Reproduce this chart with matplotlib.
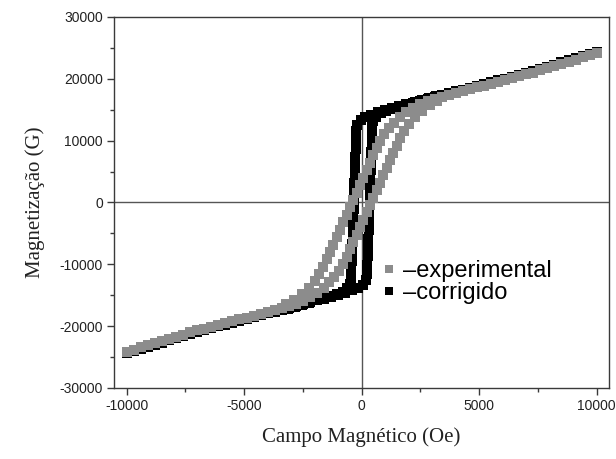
import matplotlib.pyplot as plt
from matplotlib.lines import Line2D
from matplotlib.ticker import MultipleLocator

plt.rcParams["axes.unicode_minus"] = False

# Saturation tails (field in Oe), shared by both loops
TAIL_H_POS = [3400, 3700, 4000, 4300, 4600, 4900, 5200, 5500, 5800, 6100, 6400, 6700,
              7000, 7300, 7600, 7900, 8200, 8500, 8800, 9100, 9400, 9700, 10000]
TAIL_H_NEG = [-3400, -3700, -4000, -4300, -4600, -4900, -5200, -5500, -5800, -6100, -6400, -6700,
              -7000, -7300, -7600, -7900, -8200, -8500, -8800, -9100, -9400, -9700, -10000]

# experimental loop (G)
EXP_TAIL_POS_M = [17100, 17400, 17700, 18000, 18300, 18600, 18900, 19200, 19500, 19800, 20100, 20400,
                  20700, 21000, 21350, 21700, 22050, 22400, 22750, 23100, 23450, 23800, 24100]
EXP_TAIL_NEG_M = [-17100, -17400, -17700, -18000, -18300, -18600, -18900, -19200, -19500, -19800, -20100, -20400,
                  -20700, -21000, -21350, -21700, -22050, -22400, -22750, -23100, -23450, -23800, -24100]
EXP_DESC_H = [3100, 2800, 2500, 2200, 1900, 1620, 1380, 1160, 960,
              780, 640, 500, 355, 215, 70, -70, -210, -350, -495, -635, -780, -920, -1060, -1200,
              -1345, -1485, -1630,
              -1800, -2000, -2250, -2550, -2900, -3200]
EXP_DESC_M = [16800, 16400, 15900, 15300, 14600, 13800, 12900, 12000, 11000,
              10000, 8800, 7600, 6400, 5200, 4000, 2800, 1600, 400, -800, -2000, -3200, -4400, -5600, -6800,
              -8000, -9200, -10400,
              -11600, -12700, -13800, -14800, -15700, -16400]
EXP_ASC_H = [-3100, -2800, -2500, -2200, -1900, -1620, -1380, -1160, -960,
             -780, -640, -500, -355, -215, -70, 70, 210, 350, 495, 635, 780, 920, 1060, 1200,
             1345, 1485, 1630,
             1800, 2000, 2250, 2550, 2900, 3200]
EXP_ASC_M = [-16800, -16400, -15900, -15300, -14600, -13800, -12900, -12000, -11000,
             -10000, -8800, -7600, -6400, -5200, -4000, -2800, -1600, -400, 800, 2000, 3200, 4400, 5600, 6800,
             8000, 9200, 10400,
             11600, 12700, 13800, 14800, 15700, 16400]

# corrected loop (G)
COR_TAIL_POS_M = [17350, 17650, 17950, 18250, 18550, 18850, 19150, 19450, 19750, 20050, 20350, 20650,
                  20950, 21250, 21600, 21950, 22300, 22650, 23000, 23350, 23700, 24050, 24350]
COR_TAIL_NEG_M = [-17350, -17650, -17950, -18250, -18550, -18850, -19150, -19450, -19750, -20050, -20350, -20650,
                  -20950, -21250, -21600, -21950, -22300, -22650, -23000, -23350, -23700, -24050, -24350]
COR_DESC_H = [3100, 2800, 2500, 2200, 1900, 1600, 1300, 1000, 700, 400, 150, -50, -180,
              -230, -245, -260, -270, -285, -295, -310, -320, -335, -345, -360, -370, -385, -395,
              -410, -420, -435, -450,
              -500, -620, -800, -1050, -1350, -1650, -1950, -2250, -2550, -2850, -3150]
COR_DESC_M = [17050, 16750, 16450, 16150, 15850, 15550, 15250, 14950, 14600, 14200, 13800, 13300, 12600,
              11500, 10100, 8700, 7300, 5900, 4500, 3100, 1700, 300, -1100, -2500, -3900, -5300, -6700,
              -8100, -9500, -10900, -12200,
              -13200, -13900, -14400, -14800, -15150, -15500, -15850, -16200, -16550, -16900, -17200]
COR_ASC_H = [-3100, -2800, -2500, -2200, -1900, -1600, -1300, -1000, -700, -400, -150, 50, 180,
             230, 245, 260, 270, 285, 295, 310, 320, 335, 345, 360, 370, 385, 395,
             410, 420, 435, 450,
             500, 620, 800, 1050, 1350, 1650, 1950, 2250, 2550, 2850, 3150]
COR_ASC_M = [-17050, -16750, -16450, -16150, -15850, -15550, -15250, -14950, -14600, -14200, -13800, -13300, -12600,
             -11500, -10100, -8700, -7300, -5900, -4500, -3100, -1700, -300, 1100, 2500, 3900, 5300, 6700,
             8100, 9500, 10900, 12200,
             13200, 13900, 14400, 14800, 15150, 15500, 15850, 16200, 16550, 16900, 17200]

GREY = "#8c8c8c"
BLACK = "#000000"
AXIS_COLOR = "#3a3a3a"

fig = plt.figure(figsize=(6.16, 4.59), dpi=100)
fig.patch.set_facecolor("white")
ax = fig.add_axes([0.185, 0.1547, 0.8036, 0.8083])


def scatter_loop(h_parts, m_parts, color):
    h, m = [], []
    for hp, mp in zip(h_parts, m_parts):
        h.extend(hp)
        m.extend(mp)
    ax.plot(h, m, ls="none", marker="s", markersize=7.2, markeredgewidth=0,
            color=color, zorder=3)


# black drawn first so the grey sits on top in the tails
scatter_loop([TAIL_H_POS, TAIL_H_NEG, COR_DESC_H, COR_ASC_H],
             [COR_TAIL_POS_M, COR_TAIL_NEG_M, COR_DESC_M, COR_ASC_M], BLACK)
scatter_loop([TAIL_H_POS, TAIL_H_NEG, EXP_DESC_H, EXP_ASC_H],
             [EXP_TAIL_POS_M, EXP_TAIL_NEG_M, EXP_DESC_M, EXP_ASC_M], GREY)

ax.axhline(0, color="#555555", lw=1.0, zorder=2)
ax.axvline(0, color="#555555", lw=1.0, zorder=2)

ax.set_xlim(-10540, 10520)
ax.set_ylim(-30000, 30000)
ax.xaxis.set_major_locator(MultipleLocator(5000))
ax.xaxis.set_minor_locator(MultipleLocator(2500))
ax.yaxis.set_major_locator(MultipleLocator(10000))
ax.yaxis.set_minor_locator(MultipleLocator(5000))

for spine in ax.spines.values():
    spine.set_color(AXIS_COLOR)
    spine.set_linewidth(1.0)
ax.tick_params(which="major", direction="out", length=5, width=1, color=AXIS_COLOR,
               labelsize=10, labelcolor="#222222", pad=3)
ax.tick_params(which="minor", direction="out", length=3, width=1, color=AXIS_COLOR)
for lbl in ax.get_xticklabels() + ax.get_yticklabels():
    lbl.set_fontfamily("Liberation Sans")

ax.set_xlabel("Campo Magnético (Oe)", fontfamily="Liberation Serif", fontsize=15,
              color="#222222", labelpad=10)
ax.set_ylabel("Magnetização (G)", fontfamily="Liberation Serif", fontsize=15,
              color="#222222", labelpad=10)

handles = [
    Line2D([], [], ls="none", marker="s", markersize=6, markeredgewidth=0, color=GREY),
    Line2D([], [], ls="none", marker="s", markersize=6, markeredgewidth=0, color=BLACK),
]
ax.legend(handles, ["–experimental", "–corrigido"], loc="upper left",
          bbox_to_anchor=(0.543, 0.345), frameon=False, borderpad=0, borderaxespad=0,
          handlelength=0.55, handletextpad=0.3, labelspacing=0.0,
          prop={"family": "Liberation Sans", "size": 17})

fig.savefig("out.png", dpi=100, facecolor="white")
